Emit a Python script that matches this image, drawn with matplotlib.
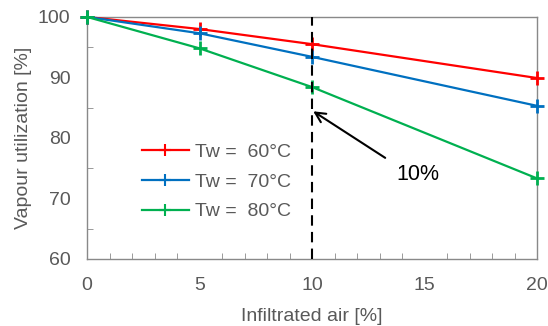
import matplotlib.pyplot as plt
from matplotlib.ticker import MultipleLocator

plt.rcParams['font.family'] = ['Liberation Sans', 'DejaVu Sans']

air = [0, 5, 10, 20]
tw60 = [100, 98.0, 95.5, 89.9]
tw70 = [100, 97.3, 93.4, 85.3]
tw80 = [100, 94.8, 88.4, 73.3]
labels = ['Tw =  60°C', 'Tw =  70°C', 'Tw =  80°C']
colors = ['#FF0000', '#0070C0', '#00B050']

gray = '#595959'
axis_gray = '#898989'

fig = plt.figure(figsize=(5.48, 3.26), dpi=100)
ax = fig.add_axes([0.159, 0.206, 0.821, 0.742])

for ys, lab, c in zip([tw60, tw70, tw80], labels, colors):
    ax.plot(air, ys, color=c, lw=1.6, marker='+', ms=10.5, mew=2, label=lab,
            clip_on=False, zorder=3)

ax.axvline(10, color='black', ls=(0, (5, 3)), lw=1.5, zorder=4)
# arrow pointing at the 10% line, label placed below its tail
ax.annotate('', xy=(10.05, 84.4), xytext=(13.25, 76.7),
            arrowprops=dict(arrowstyle='->', color='black', lw=1.5,
                            mutation_scale=18, shrinkA=0, shrinkB=0))
ax.text(14.7, 74.0, '10%', fontsize=15.5, ha='center', va='center', color='black')

ax.set_xlim(0, 20)
ax.set_ylim(60, 100)
ax.xaxis.set_major_locator(MultipleLocator(5))
ax.xaxis.set_minor_locator(MultipleLocator(1))
ax.yaxis.set_major_locator(MultipleLocator(10))
ax.yaxis.set_minor_locator(MultipleLocator(5))
ax.tick_params(which='both', direction='in', color=axis_gray, labelcolor=gray,
               labelsize=14, top=False, right=False)
ax.tick_params(axis='y', which='major', length=0, pad=12)
ax.tick_params(axis='x', which='major', length=0, pad=13)
ax.tick_params(which='minor', length=4)
for s in ax.spines.values():
    s.set_color(axis_gray)
    s.set_linewidth(1)

ax.set_xlabel('Infiltrated air [%]', fontsize=14, color=gray, labelpad=10)
ax.set_ylabel('Vapour utilization [%]', fontsize=14, color=gray, labelpad=4)

leg = ax.legend(loc='center left', bbox_to_anchor=(0.122, 0.318), frameon=False,
                fontsize=14, handlelength=2.4, labelspacing=0.62,
                handletextpad=0.35, borderaxespad=0, borderpad=0)
for t in leg.get_texts():
    t.set_color(gray)
for h in leg.get_lines():
    h.set_markersize(9)
    h.set_markeredgewidth(1.5)

fig.savefig('out.png', dpi=100)
